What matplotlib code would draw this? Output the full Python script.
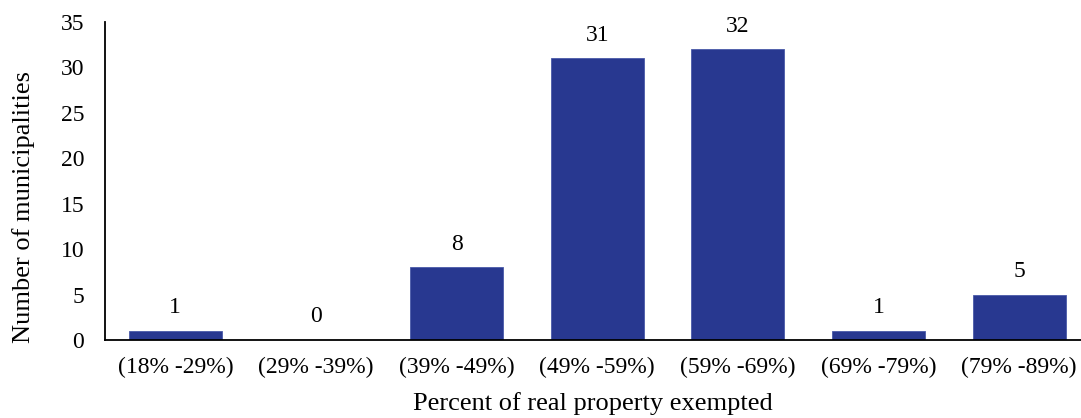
import matplotlib
matplotlib.use("Agg")
import matplotlib.pyplot as plt

categories = ["(18% -29%)", "(29% -39%)", "(39% -49%)", "(49% -59%)",
              "(59% -69%)", "(69% -79%)", "(79% -89%)"]
counts = [1, 0, 8, 31, 32, 1, 5]
y_ticks = [0, 5, 10, 15, 20, 25, 30, 35]

plt.rcParams["font.family"] = ["Liberation Serif", "DejaVu Serif"]

fig = plt.figure(figsize=(10.81, 4.18), dpi=100)
ax = fig.add_axes([105 / 1081, 78 / 418, (1081 - 105) / 1081, (340 - 22) / 418])

x = list(range(len(categories)))
ax.bar(x, counts, width=0.66, color="#283890", edgecolor="#4a5aa8", linewidth=0.6)
for xi, v in zip(x, counts):
    ax.text(xi, v + 1.4, str(v), ha="center", va="bottom", fontsize=17)

ax.set_xlim(-0.5, 6.44)
ax.set_ylim(0, 35)
ax.set_yticks(y_ticks)
ax.set_xticks(x)
ax.set_xticklabels(categories)
ax.tick_params(axis="both", length=0, labelsize=17)
ax.tick_params(axis="x", pad=12)
ax.tick_params(axis="y", pad=15)
for s in ("top", "right"):
    ax.spines[s].set_visible(False)
for s in ("left", "bottom"):
    ax.spines[s].set_linewidth(1.3)
    ax.spines[s].set_color("black")

ax.set_xlabel("Percent of real property exempted", fontsize=19, labelpad=10)
ax.set_ylabel("Number of municipalities", fontsize=19)
ax.yaxis.set_label_coords(-0.072, 0.418)

fig.savefig("out.png", dpi=100)
